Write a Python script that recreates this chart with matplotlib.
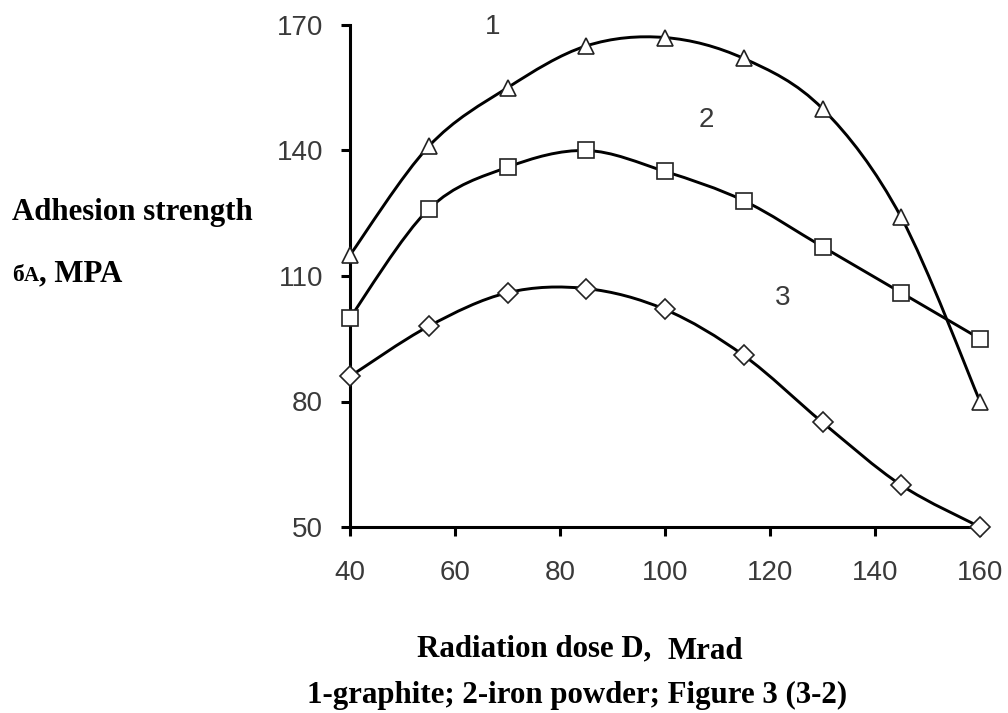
import matplotlib
matplotlib.use("Agg")
import matplotlib.pyplot as plt
import numpy as np
from matplotlib.path import Path
from matplotlib.patches import PathPatch
from matplotlib.transforms import offset_copy

# dose, Mrad
dose = [40, 55, 70, 85, 100, 115, 130, 145, 160]
# adhesion strength, MPa
graphite = [115, 141, 155, 165, 167, 162, 150, 124, 80]
iron_powder = [100, 126, 136, 140, 135, 128, 117, 106, 95]
series_3 = [86, 98, 106, 107, 102, 91, 75, 60, 50]

x_ticks = [40, 60, 80, 100, 120, 140, 160]
y_ticks = [50, 80, 110, 140, 170]


def smooth_path(x, y):
    # Catmull-Rom style smoothed line (like spreadsheet "smoothed line")
    p = np.column_stack([x, y]).astype(float)
    n = len(p)
    verts = [p[0]]
    codes = [Path.MOVETO]
    for i in range(n - 1):
        p0 = p[i - 1] if i > 0 else p[i]
        p3 = p[i + 2] if i + 2 < n else p[i + 1]
        c1 = p[i] + (p[i + 1] - p0) / 6.0
        c2 = p[i + 1] - (p3 - p[i]) / 6.0
        verts += [c1, c2, p[i + 1]]
        codes += [Path.CURVE4] * 3
    return Path(verts, codes)


W, H = 1008, 713
fig = plt.figure(figsize=(W / 100, H / 100), dpi=100)
ax = fig.add_axes([350 / W, 1 - 527 / H, 630 / W, 502 / H])

for vals, mk, ms in [(graphite, '^', 11.5), (iron_powder, 's', 12), (series_3, 'D', 10)]:
    ax.add_patch(PathPatch(smooth_path(dose, vals), facecolor='none',
                           edgecolor='black', lw=2.1, zorder=2, clip_on=False))
    ax.plot(dose, vals, linestyle='none', marker=mk, markersize=ms,
            markerfacecolor='white', markeredgecolor='#222222',
            markeredgewidth=1.2, zorder=3, clip_on=False)

ax.set_xlim(40, 160)
ax.set_ylim(50, 170)
ax.set_xticks(x_ticks)
ax.set_yticks(y_ticks)
for s in ['top', 'right']:
    ax.spines[s].set_visible(False)
for s in ['left', 'bottom']:
    ax.spines[s].set_linewidth(2.2)
ax.tick_params(direction='out', length=6.5, width=2.2, labelsize=20,
               labelcolor='#3a3a3a')
for lbl in ax.get_xticklabels() + ax.get_yticklabels():
    lbl.set_family('Liberation Sans')
ax.tick_params(axis='y', pad=13)
ax.tick_params(axis='x', pad=17)

num = dict(fontsize=20, color='#3a3a3a', ha='center', va='center',
           family='Liberation Sans')
ax.text(67.2, 169.5, '1', **num)
ax.text(107.8, 147.3, '2', **num)
ax.text(122.5, 104.7, '3', **num)

serif = dict(family='Liberation Serif', fontweight='bold', va='baseline', ha='left')
fig.text(12 / W, 1 - 220 / H, 'Adhesion strength', fontsize=22.2, **serif)

# sigma_A, MPA built from pieces
fig.canvas.draw()
r = fig.canvas.get_renderer()
x0, y0 = 12 / W, 1 - 281 / H
t1 = fig.text(x0, y0, 'б', fontsize=17, **serif)
w1 = t1.get_window_extent(r).width
t2 = fig.text(x0, y0, 'A', fontsize=15,
              transform=offset_copy(fig.transFigure, fig=fig, x=w1, y=0, units='dots'),
              **serif)
w2 = t2.get_window_extent(r).width
fig.text(x0, y0, ', MPA', fontsize=22.2,
         transform=offset_copy(fig.transFigure, fig=fig, x=w1 + w2, y=0, units='dots'),
         **serif)

fig.text(417 / W, 1 - 656 / H, 'Radiation dose D,', fontsize=22.2, **serif)
fig.text(667 / W, 1 - 659 / H, 'Mrad', fontsize=22.2, **serif)
fig.text(307 / W, 1 - 703 / H, '1-graphite; 2-iron powder; Figure 3 (3-2)',
         fontsize=22.2, **serif)

fig.savefig('out.png', dpi=100)
